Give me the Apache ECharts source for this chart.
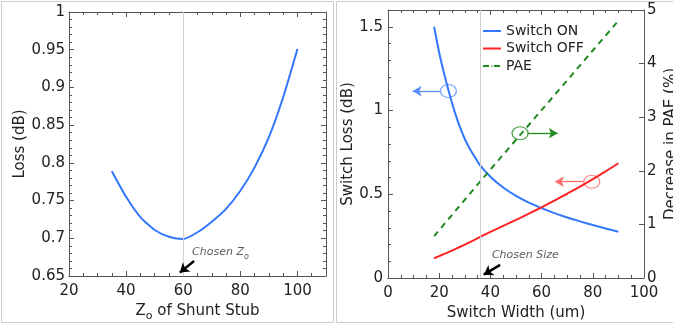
<!DOCTYPE html>
<html>
<head>
<meta charset="utf-8">
<script src="https://cdn.jsdelivr.net/npm/echarts@6/dist/echarts.min.js"></script>
<style>html,body{margin:0;padding:0;background:#fff;}#c{width:673px;height:327px;}</style>
</head>
<body>
<div id="c"></div>
<script>
// ---- Left panel data ----
const zoX = [35, 40, 45, 50, 55, 60, 65, 70, 75, 80, 85, 90, 95, 100];
const lossDb = [0.789, 0.755, 0.728, 0.711, 0.702, 0.699, 0.708, 0.722, 0.739, 0.763, 0.794, 0.834, 0.887, 0.951];
const chosenZo = 60;

// ---- Right panel data ----
const widthUm = [18, 20, 22, 24, 26, 28, 30, 32, 34, 36, 40, 45, 50, 55, 60, 65, 70, 75, 80, 85, 90];
const switchOn = [1.50, 1.345, 1.215, 1.10, 0.995, 0.905, 0.83, 0.77, 0.72, 0.672, 0.605, 0.54, 0.49, 0.45, 0.417, 0.387, 0.361, 0.338, 0.316, 0.296, 0.276];
const switchOff = [0.118, 0.131, 0.144, 0.157, 0.171, 0.185, 0.199, 0.214, 0.229, 0.245, 0.275, 0.311, 0.347, 0.384, 0.422, 0.462, 0.503, 0.546, 0.59, 0.636, 0.685];
const paeX = [18, 36, 54, 72, 90];
const paeDecrease = [0.78, 1.80, 2.80, 3.80, 4.80];
const chosenSize = 36;

const BLUE = '#3377ff', RED = '#ff2222', GREEN = '#1f8a1f';
const FONT = 'DejaVu Sans';
const AX = '#555';

function pairs(xs, ys) { return xs.map((x, i) => [x, ys[i]]); }

function valAxis(o) {
  return Object.assign({
    type: 'value',
    axisLine: { show: true, onZero: false, lineStyle: { color: AX, width: 1 } },
    axisTick: { show: true, inside: true, length: 5, lineStyle: { color: AX } },
    minorTick: { show: true, splitNumber: 4, length: 3, lineStyle: { color: AX } },
    splitLine: { show: false },
    axisLabel: { color: '#222', fontFamily: FONT, fontSize: 15 },
    nameTextStyle: { color: '#222', fontFamily: FONT, fontSize: 15 },
  }, o);
}

const chart = echarts.init(document.getElementById('c'), null, { renderer: 'canvas' });

const option = {
  animation: false,
  backgroundColor: '#fff',
  textStyle: { fontFamily: FONT },
  graphic: [
    { type: 'rect', shape: { x: 1.5, y: 1.5, width: 332, height: 321 }, style: { fill: 'none', stroke: '#cccccc', lineWidth: 1 }, silent: true },
    { type: 'rect', shape: { x: 336.5, y: 1.5, width: 340, height: 321 }, style: { fill: 'none', stroke: '#cccccc', lineWidth: 1 }, silent: true }
  ],
  grid: [
    { left: 69, top: 12, width: 257, height: 264, containLabel: false, outerBoundsMode: 'none' },
    { left: 388, top: 10, width: 256, height: 268, containLabel: false, outerBoundsMode: 'none' }
  ],
  legend: {
    data: ['Switch ON', 'Switch OFF', 'PAE'],
    orient: 'vertical',
    left: 482, top: 24, padding: 0,
    itemWidth: 18, itemHeight: 2, itemGap: 3.5,
    selectedMode: false,
    textStyle: { fontFamily: FONT, fontSize: 14, color: '#222' }
  },
  xAxis: [
    valAxis({ gridIndex: 0, min: 20, max: 110, interval: 20, position: 'bottom',
      axisLabel: { color: '#222', fontFamily: FONT, fontSize: 15, margin: 8, showMaxLabel: false },
      name: '{a|Z}{s|o}{a| of Shunt Stub}', nameLocation: 'middle', nameGap: 24,
      nameTextStyle: { rich: { a: { fontFamily: FONT, fontSize: 15, color: '#222' }, s: { fontFamily: FONT, fontSize: 11, color: '#222', verticalAlign: 'bottom', padding: [10, 0, 0, 0] } } } }),
    valAxis({ gridIndex: 0, min: 20, max: 110, interval: 20, position: 'top', axisLabel: { show: false } }),
    valAxis({ gridIndex: 1, min: 0, max: 100, interval: 20, position: 'bottom',
      axisLabel: { color: '#222', fontFamily: FONT, fontSize: 15, margin: 8 },
      name: 'Switch Width (um)', nameLocation: 'middle', nameGap: 27 }),
    valAxis({ gridIndex: 1, min: 0, max: 100, interval: 20, position: 'top', axisLabel: { show: false } })
  ],
  yAxis: [
    valAxis({ gridIndex: 0, min: 0.65, max: 1, interval: 0.05, position: 'left',
      minorTick: { show: true, splitNumber: 5, length: 3, lineStyle: { color: AX } },
      axisLabel: { color: '#222', fontFamily: FONT, fontSize: 15, margin: 4 },
      name: 'Loss (dB)', nameLocation: 'middle', nameGap: 30, nameRotate: 90 }),
    valAxis({ gridIndex: 0, min: 0.65, max: 1, interval: 0.05, position: 'right',
      minorTick: { show: true, splitNumber: 5, length: 3, lineStyle: { color: AX } },
      axisLabel: { show: false } }),
    valAxis({ gridIndex: 1, min: 0, max: 1.6, interval: 0.5, position: 'left',
      minorTick: { show: true, splitNumber: 5, length: 3, lineStyle: { color: AX } },
      axisLabel: { color: '#222', fontFamily: FONT, fontSize: 15, margin: 5, showMaxLabel: false },
      name: 'Switch Loss (dB)', nameLocation: 'middle', nameGap: 32, nameRotate: 90 }),
    valAxis({ gridIndex: 1, min: 0, max: 5, interval: 1, position: 'right',
      minorTick: { show: false },
      axisLabel: { color: '#222', fontFamily: FONT, fontSize: 15, margin: 3 },
      name: 'Decrease in PAE (%)', nameLocation: 'middle', nameGap: 20, nameRotate: 90 })
  ],
  series: [
    {
      name: 'Loss', type: 'line', xAxisIndex: 0, yAxisIndex: 0,
      data: pairs(zoX, lossDb), showSymbol: false, symbol: 'none', smooth: 0.2,
      lineStyle: { color: BLUE, width: 2 }, z: 3,
      markLine: {
        silent: true, animation: false, label: { show: false }, symbol: 'none',
        data: [
          { xAxis: chosenZo, lineStyle: { color: '#cfcfcf', width: 1, type: 'solid' } },
          [ { coord: [63.8, 0.670], symbol: 'none', lineStyle: { color: '#000', width: 2.5, type: 'solid' } },
            { coord: [58.8, 0.6545], symbol: 'arrow', symbolSize: [9, 9] } ]
        ]
      }
    },
    {
      name: 'ChosenZoText', type: 'scatter', xAxisIndex: 0, yAxisIndex: 0,
      data: [[63.1, 0.681]], symbolSize: 0, silent: true,
      label: { show: true, position: 'right', distance: 0,
        formatter: '{a|Chosen Z}{s|o}',
        rich: { a: { fontFamily: FONT, fontSize: 11, fontStyle: 'italic', color: '#333' },
                s: { fontFamily: FONT, fontSize: 8, fontStyle: 'italic', color: '#333', padding: [8, 0, 0, 0] } } }
    },
    {
      name: 'Switch ON', type: 'line', xAxisIndex: 2, yAxisIndex: 2,
      data: pairs(widthUm, switchOn), showSymbol: false, symbol: 'none', smooth: 0.2,
      lineStyle: { color: BLUE, width: 2 }, itemStyle: { color: BLUE },
      markLine: {
        silent: true, animation: false, label: { show: false }, symbol: 'none',
        data: [
          { xAxis: chosenSize, lineStyle: { color: '#cfcfcf', width: 1, type: 'solid' } },
          [ { coord: [43.8, 0.078], symbol: 'none', lineStyle: { color: '#000', width: 2.5, type: 'solid' } },
            { coord: [37.4, 0.02], symbol: 'arrow', symbolSize: [9, 9] } ],
          [ { coord: [20.4, 1.116], symbol: 'none', lineStyle: { color: '#5b8dff', width: 1.3, type: 'solid' } },
            { coord: [9.6, 1.116], symbol: 'arrow', symbolSize: [8, 9] } ]
        ]
      }
    },
    {
      name: 'Switch OFF', type: 'line', xAxisIndex: 2, yAxisIndex: 2,
      data: pairs(widthUm, switchOff), showSymbol: false, symbol: 'none', smooth: 0.2,
      lineStyle: { color: RED, width: 2 }, itemStyle: { color: RED },
      markLine: {
        silent: true, animation: false, label: { show: false }, symbol: 'none',
        data: [
          [ { coord: [76.4, 0.575], symbol: 'none', lineStyle: { color: '#ff6b6b', width: 1.3, type: 'solid' } },
            { coord: [65.2, 0.575], symbol: 'arrow', symbolSize: [8, 9] } ]
        ]
      }
    },
    {
      name: 'PAE', type: 'line', xAxisIndex: 2, yAxisIndex: 3,
      data: pairs(paeX, paeDecrease), showSymbol: false, symbol: 'none',
      lineStyle: { color: GREEN, width: 2, type: [6, 5] }, itemStyle: { color: GREEN },
      markLine: {
        silent: true, animation: false, label: { show: false }, symbol: 'none',
        data: [
          [ { coord: [54.8, 2.70], symbol: 'none', lineStyle: { color: GREEN, width: 1.3, type: 'solid' } },
            { coord: [66.3, 2.70], symbol: 'arrow', symbolSize: [8, 9] } ]
        ]
      }
    },
    {
      name: 'CircleLoss', type: 'scatter', xAxisIndex: 2, yAxisIndex: 2,
      data: [[23.6, 1.116]], symbol: 'circle', symbolSize: [16, 13], silent: true,
      itemStyle: { color: 'rgba(0,0,0,0)', borderColor: '#5b8dff', borderWidth: 1.2 }
    },
    {
      name: 'CircleOff', type: 'scatter', xAxisIndex: 2, yAxisIndex: 2,
      data: [[79.6, 0.575]], symbol: 'circle', symbolSize: [16, 13], silent: true,
      itemStyle: { color: 'rgba(0,0,0,0)', borderColor: '#ff6b6b', borderWidth: 1.2 }
    },
    {
      name: 'CirclePae', type: 'scatter', xAxisIndex: 2, yAxisIndex: 3,
      data: [[51.6, 2.70]], symbol: 'circle', symbolSize: [16, 13], silent: true,
      itemStyle: { color: 'rgba(0,0,0,0)', borderColor: GREEN, borderWidth: 1.2 }
    },
    {
      name: 'ChosenSizeText', type: 'scatter', xAxisIndex: 2, yAxisIndex: 2,
      data: [[40.6, 0.137]], symbolSize: 0, silent: true,
      label: { show: true, position: 'right', distance: 0, formatter: 'Chosen Size',
        fontFamily: FONT, fontSize: 11, fontStyle: 'italic', color: '#333' }
    }
  ]
};
chart.setOption(option);
</script>
</body>
</html>
